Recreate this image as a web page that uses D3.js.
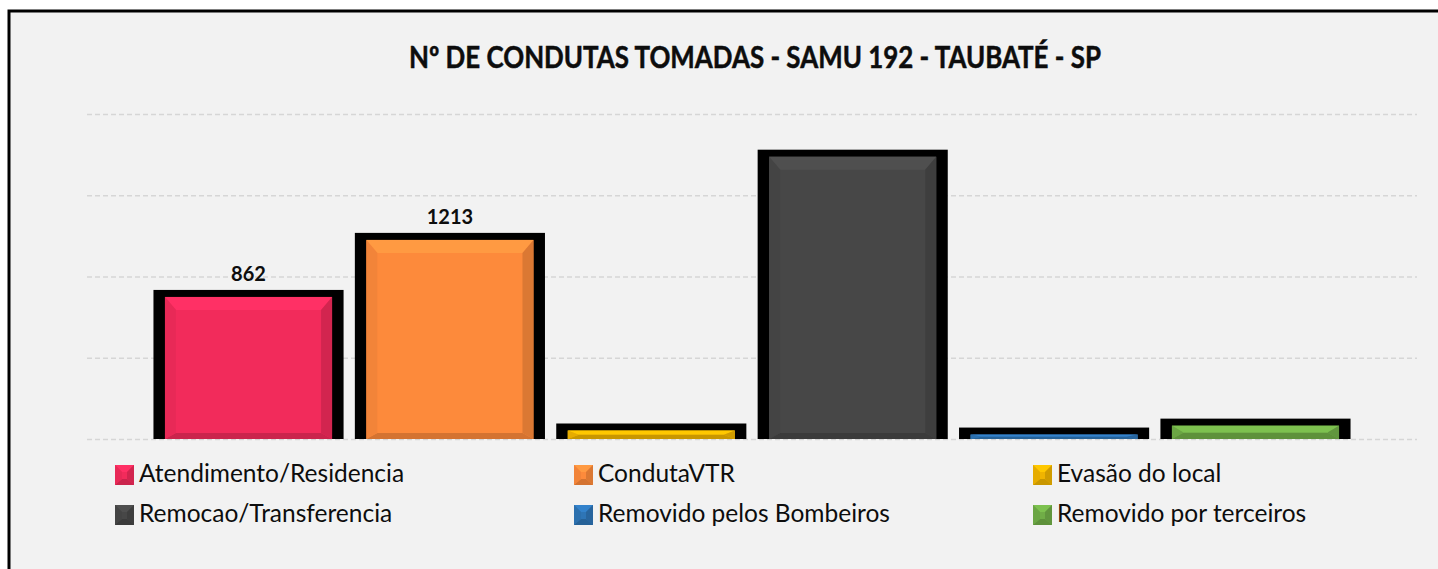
<!DOCTYPE html>
<html>
<head>
<meta charset="utf-8">
<script src="https://cdn.jsdelivr.net/npm/d3@7"></script>
<style>
  html, body { margin: 0; padding: 0; background: #ffffff; overflow: hidden; }
  svg { display: block; }
</style>
</head>
<body>
<div id="chart"></div>
<script>
"use strict";

const title = "Nº DE CONDUTAS TOMADAS - SAMU 192 - TAUBATÉ - SP";
const series = [
  "Atendimento/Residencia",
  "CondutaVTR",
  "Evasão do local",
  "Remocao/Transferencia",
  "Removido pelos Bombeiros",
  "Removido por terceiros"
];
const values = [862, 1213, 40, 1725, 15, 70];
const colors = ["#f22b5b", "#fd8a3b", "#f0b400", "#474747", "#2e75b6", "#70ad47"];
const labelledSeries = ["Atendimento/Residencia", "CondutaVTR"];
const gridTicks = [0, 500, 1000, 1500, 2000];

const width = 1438;
const height = 569;
const plot = { left: 87, right: 1417, top: 114, bottom: 439 };

const svg = d3.select("#chart")
  .append("svg")
  .attr("width", width)
  .attr("height", height)
;

// chart area frame, only the top and left edges fall inside the picture
svg.append("rect")
  .attr("x", 9)
  .attr("y", 11)
  .attr("width", width)
  .attr("height", height)
  .attr("fill", "#f2f2f2")
;
svg.append("path")
  .attr("d", `M9,${height} V11 H${width}`)
  .attr("fill", "none")
  .attr("stroke", "#000")
  .attr("stroke-width", 3)
;

const xScale = d3.scaleBand()
  .domain(series)
  .range([plot.left, plot.right])
  .paddingInner(0.056)
  .paddingOuter(0.33)
;
const yScale = d3.scaleLinear()
  .domain([0, 2000])
  .range([plot.bottom, plot.top])
;

svg.append("g")
  .selectAll("line")
  .data(gridTicks)
  .enter()
  .append("line")
  .attr("x1", plot.left)
  .attr("x2", plot.right)
  .attr("y1", d => yScale(d) + 0.5)
  .attr("y2", d => yScale(d) + 0.5)
  .attr("stroke", "#d6d6d6")
  .attr("stroke-width", 1.3)
  .attr("stroke-dasharray", "5,3")
;

// bevelled rectangle: flat fill plus four shaded edge trapezoids
function bevel(g, x0, y0, w, h, color, bt, bs, bb) {
  const c = d3.color(color);
  const x1 = x0 + w;
  const y1 = y0 + h;
  g.append("rect")
    .attr("x", x0).attr("y", y0).attr("width", w).attr("height", h)
    .attr("fill", c.formatHex())
  ;
  const faces = [
    { pts: [[x0, y0], [x1, y0], [x1 - bs, y0 + bt], [x0 + bs, y0 + bt]], fill: c.brighter(0.3) },
    { pts: [[x0, y1], [x1, y1], [x1 - bs, y1 - bb], [x0 + bs, y1 - bb]], fill: c.darker(0.5) },
    { pts: [[x0, y0], [x0 + bs, y0 + bt], [x0 + bs, y1 - bb], [x0, y1]], fill: c.darker(0.12) },
    { pts: [[x1, y0], [x1 - bs, y0 + bt], [x1 - bs, y1 - bb], [x1, y1]], fill: c.darker(0.4) }
  ];
  g.selectAll(null)
    .data(faces)
    .enter()
    .append("polygon")
    .attr("points", d => d.pts.map(p => p.join(",")).join(" "))
    .attr("fill", d => d.fill.formatHex())
  ;
}

const bars = svg.append("g");
series.forEach((name, i) => {
  const x = xScale(name);
  const bw = xScale.bandwidth();
  const top = yScale(values[i]);
  bars.append("rect")
    .attr("x", x)
    .attr("y", top - 9)
    .attr("width", bw)
    .attr("height", plot.bottom - top + 9)
    .attr("fill", "#000")
  ;
  const h = plot.bottom - top + 2;
  bevel(bars, x + 11.5, top - 2, bw - 23, h, colors[i],
    Math.min(13, h * 0.5), 11, Math.min(6, h * 0.5));
});

svg.append("g")
  .selectAll("text")
  .data(series.filter(s => labelledSeries.includes(s)))
  .enter()
  .append("text")
  .attr("x", d => xScale(d) + xScale.bandwidth() / 2)
  .attr("y", d => yScale(values[series.indexOf(d)]) - 18)
  .attr("text-anchor", "middle")
  .attr("font-family", "Lato, sans-serif")
  .attr("font-weight", "bold")
  .attr("font-size", 20)
  .attr("fill", "#0d0d0d")
  .text(d => values[series.indexOf(d)])
;

svg.append("text")
  .attr("x", 409)
  .attr("y", 68)
  .attr("font-family", "Lato, sans-serif")
  .attr("font-weight", "bold")
  .attr("font-size", 30.5)
  .attr("fill", "#0d0d0d")
  .attr("stroke", "#0d0d0d")
  .attr("stroke-width", 0.5)
  .attr("textLength", 692)
  .attr("lengthAdjust", "spacingAndGlyphs")
  .text(title)
;

// legend: three columns, two rows
const legend = svg.append("g");
series.forEach((name, i) => {
  const col = i % 3;
  const row = Math.floor(i / 3);
  const lx = 115 + col * 459;
  const ly = 465 + row * 40;
  bevel(legend, lx, ly, 19, 20, colors[i], 7, 7, 6);
  legend.append("text")
    .attr("x", lx + 24)
    .attr("y", ly + 17)
    .attr("font-family", "Lato, sans-serif")
    .attr("font-size", 24.5)
    .attr("fill", "#0d0d0d")
    .text(name)
  ;
});
</script>
</body>
</html>
